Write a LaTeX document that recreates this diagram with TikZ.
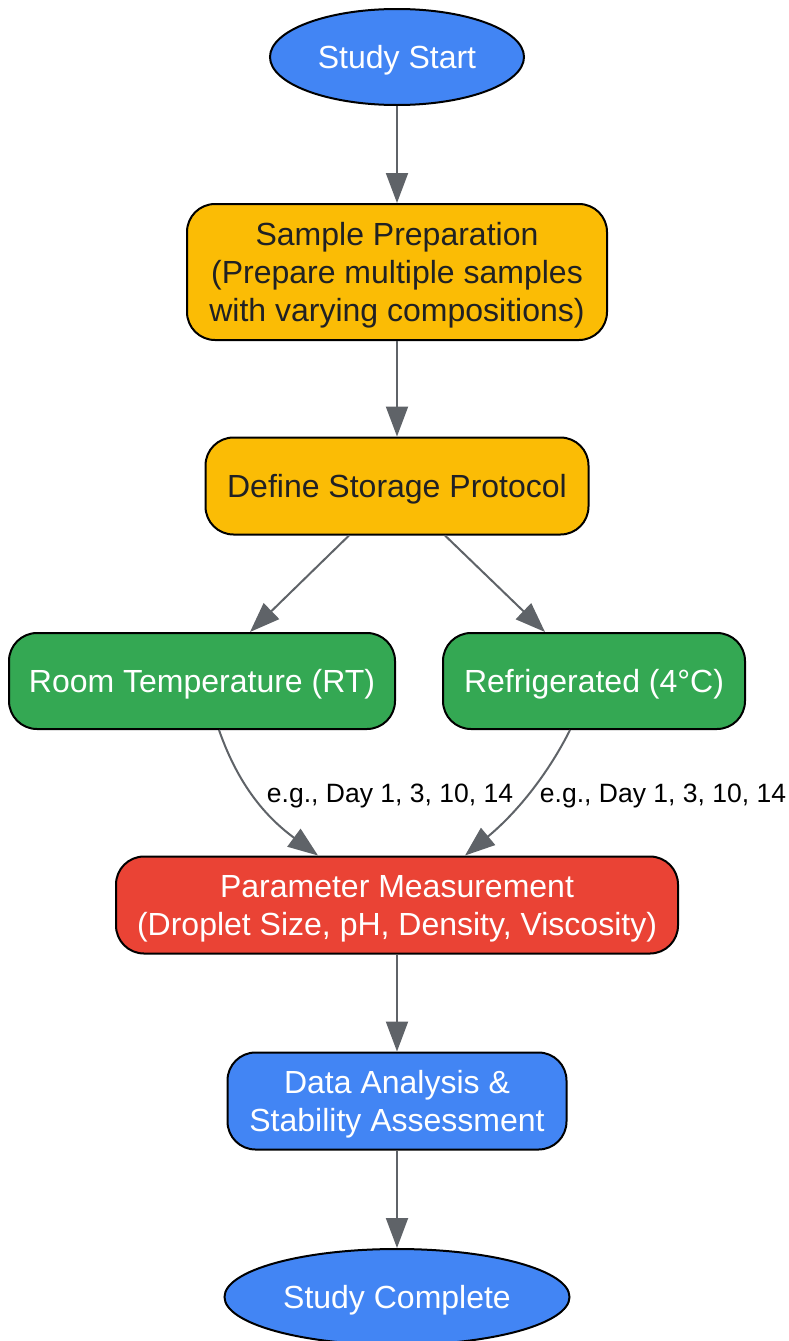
\documentclass[tikz,border=0pt]{standalone}
\usepackage{fontspec}
\setmainfont{Liberation Sans}
\usetikzlibrary{shapes.geometric,arrows.meta}
\definecolor{gblue}{HTML}{4285F4}
\definecolor{gyellow}{HTML}{FBBC05}
\definecolor{ggreen}{HTML}{34A853}
\definecolor{gred}{HTML}{EA4335}
\definecolor{egray}{HTML}{5F6368}
\definecolor{darktext}{HTML}{202124}
\begin{document}
\begin{tikzpicture}[x=1pt,y=-1pt,
  base/.style={draw=black,line width=2pt,align=center,inner sep=0pt,text depth=0pt,font=\fontsize{32}{38}\selectfont},
  oval/.style={base,ellipse,minimum height=96pt},
  box/.style={base,rectangle,rounded corners=28pt},
  bluefill/.style={fill=gblue,text=white},
  yellowfill/.style={fill=gyellow,text=darktext},
  greenfill/.style={fill=ggreen,text=white},
  redfill/.style={fill=gred,text=white},
  conn/.style={draw=egray,line width=2pt,-{Triangle[length=30pt,width=22pt]}},
  lbl/.style={font=\fontsize{26.5}{30}\selectfont,text=black,inner sep=0pt,text depth=0pt}]
\useasboundingbox (0,0) rectangle (789,1341);

\node[oval,bluefill,minimum width=254pt] (start) at (397,57) {Study Start};
\node[box,yellowfill,minimum width=420pt,minimum height=136pt] (prep) at (397,272)
  {Sample Preparation\\(Prepare multiple samples\\with varying compositions)};
\node[box,yellowfill,minimum width=383pt,minimum height=97pt] (define) at (397,486) {Define Storage Protocol};
\node[box,greenfill,minimum width=386pt,minimum height=96pt] (rt) at (202,681) {Room Temperature (RT)};
\node[box,greenfill,minimum width=302pt,minimum height=96pt] (ref) at (594,681) {Refrigerated (4°C)};
\node[box,redfill,minimum width=562pt,minimum height=97pt] (param) at (397,905)
  {Parameter Measurement\\(Droplet Size, pH, Density, Viscosity)};
\node[box,bluefill,minimum width=339pt,minimum height=97pt] (data) at (397,1101)
  {Data Analysis \&\\Stability Assessment};
\node[oval,bluefill,minimum width=345pt] (done) at (397,1297) {Study Complete};

\draw[conn] (start.south) -- (prep.north);
\draw[conn] (prep.south) -- (define.north);
\draw[conn] ([xshift=-48pt]define.south) -- ([xshift=48pt]rt.north);
\draw[conn] ([xshift=48pt]define.south) -- ([xshift=-49pt]ref.north);
\draw[conn] ([xshift=17pt]rt.south) .. controls (240,790) and (270,820) .. ([xshift=-79pt]param.north);
\draw[conn] ([xshift=-24pt]ref.south) .. controls (550,770) and (520,810) .. ([xshift=68pt]param.north);
\draw[conn] (param.south) -- (data.north);
\draw[conn] (data.south) -- (done.north);

\node[lbl] (l1) at (390,793) {e.g., Day 1, 3, 10, 14};
\node[lbl] (l2) at (663,793) {e.g., Day 1, 3, 10, 14};
\end{tikzpicture}
\end{document}
